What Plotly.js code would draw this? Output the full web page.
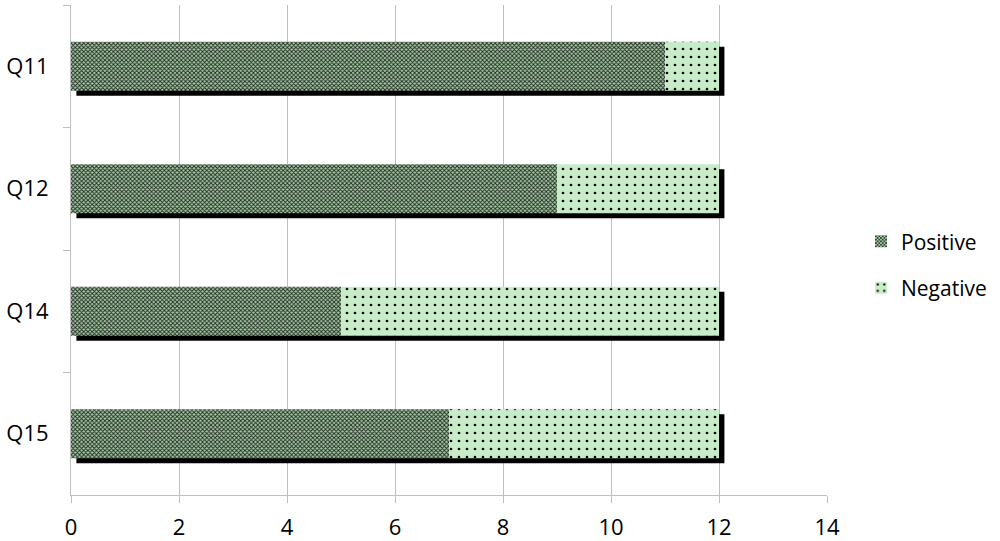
<!DOCTYPE html>
<html>
<head>
<meta charset="utf-8">
<script src="https://cdn.plot.ly/plotly-3.0.1.min.js"></script>
<style>html,body{margin:0;padding:0;background:#fff}#chart{width:1000px;height:541px}</style>
</head>
<body>
<div id="chart"></div>
<script>
const categories = ['Q11', 'Q12', 'Q14', 'Q15'];
const positive = [11, 9, 5, 7];
const negative = [1, 3, 7, 5];
const seriesNames = ['Positive', 'Negative'];
const xTicks = [0, 2, 4, 6, 8, 10, 12, 14];

const totals = positive.map((p, i) => p + negative[i]);
const barWidth = 0.4;
const font = "'Open Sans', 'Noto Sans', 'Liberation Sans', sans-serif";

const shadow = {
  type: 'bar', orientation: 'h', y: categories, x: totals,
  base: 0.1, width: barWidth, offset: -barWidth / 2 + 0.04,
  marker: {color: '#000000', line: {width: 0}},
  showlegend: false, hoverinfo: 'skip'
};
const pos = {
  type: 'bar', orientation: 'h', name: seriesNames[0], y: categories, x: positive,
  base: 0, width: barWidth, legendgroup: 'a',
  marker: {color: '#9dbd9d', line: {width: 0},
    pattern: {shape: 'x', fgcolor: '#1c2a1c', bgcolor: '#a9c9a9', size: 3, solidity: 0.5, fillmode: 'replace'}}
};
const neg = {
  type: 'bar', orientation: 'h', name: seriesNames[1], y: categories, x: negative,
  base: positive, width: barWidth, legendgroup: 'b',
  marker: {color: '#c8ecc8', line: {width: 0},
    pattern: {shape: '.', fgcolor: '#000000', bgcolor: '#c8ecc8', size: 8, solidity: 0.09, fillmode: 'replace'}}
};

const layout = {
  width: 1000, height: 541,
  margin: {l: 71, r: 173, t: 5, b: 46, autoexpand: false},
  barmode: 'overlay',
  paper_bgcolor: '#ffffff', plot_bgcolor: '#ffffff',
  font: {family: font, size: 22, color: '#000000'},
  xaxis: {range: [0, 14], tickvals: xTicks, ticktext: xTicks.map(String),
    showgrid: true, gridcolor: '#bfbfbf', gridwidth: 1,
    showline: true, linecolor: '#bfbfbf', linewidth: 1,
    ticks: 'outside', ticklen: 7, tickcolor: '#bfbfbf', zeroline: false, fixedrange: true,
    ticklabelstandoff: 6},
  yaxis: {autorange: 'reversed', type: 'category', showgrid: false,
    showline: true, linecolor: '#bfbfbf', linewidth: 1,
    ticks: 'outside', tickson: 'boundaries', ticklen: 7, tickcolor: '#bfbfbf', fixedrange: true,
    ticklabelstandoff: 17},
  legend: {x: 1.045, y: 0.47, xanchor: 'left', yanchor: 'middle', traceorder: 'grouped',
    tracegroupgap: 16, font: {family: font, size: 21}, itemwidth: 30},
  showlegend: true
};

Plotly.newPlot('chart', [shadow, pos, neg], layout, {displayModeBar: false, staticPlot: true});
</script>
</body>
</html>
